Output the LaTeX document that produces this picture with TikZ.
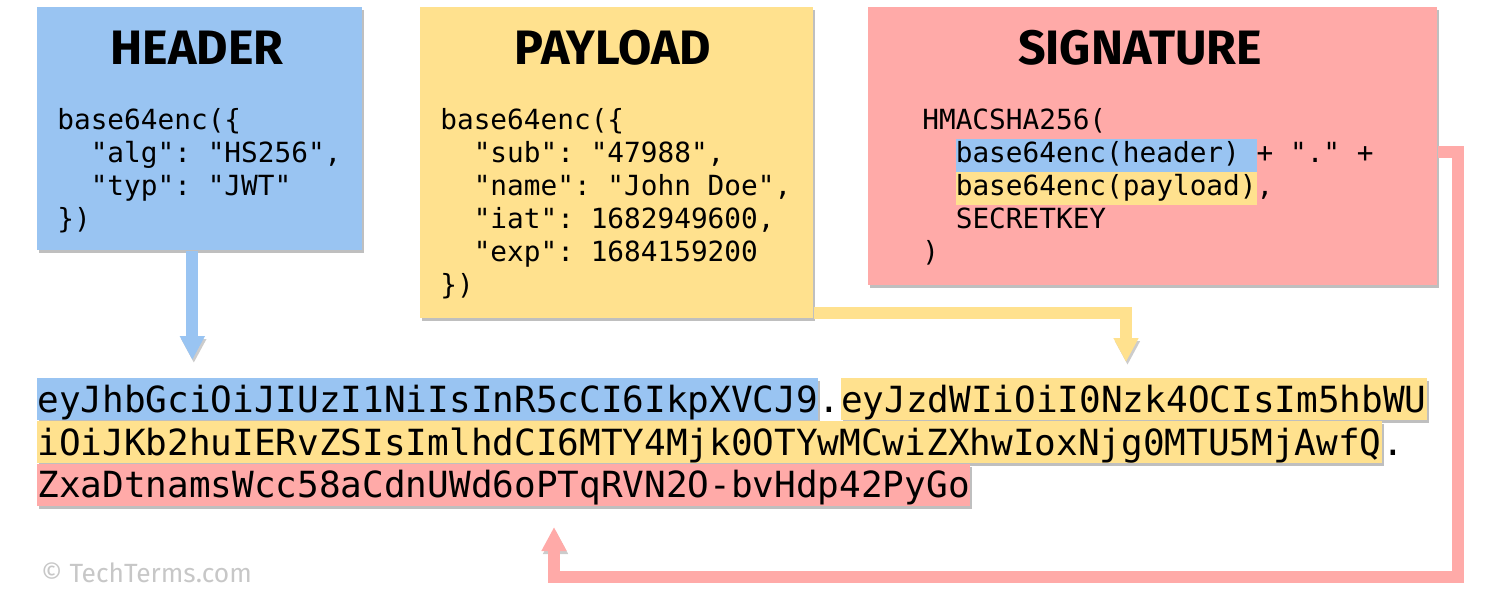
\documentclass[tikz,border=0pt]{standalone}
\usepackage{fontspec}
\setmainfont{Fira Sans}
\setmonofont{DejaVu Sans Mono}
\usetikzlibrary{arrows.meta,shadows}

\definecolor{hdrblue}{HTML}{99C4F2}
\definecolor{payyellow}{HTML}{FFE18E}
\definecolor{sigpink}{HTML}{FFAAA8}
\newcommand{\indt}{\phantom{00}}
\newcommand{\hl}[2]{{\setlength{\fboxsep}{0pt}\colorbox{#1}{\strut #2}}}

\begin{document}
\begin{tikzpicture}[x=0.02cm,y=-0.02cm,
  part/.style={anchor=north west,inner sep=0pt,drop shadow={shadow xshift=.04cm,shadow yshift=-.06cm,fill=black,opacity=.25}},
  title/.style={font=\fontsize{27.5}{32}\selectfont\bfseries},
  code/.style={anchor=north west,inner sep=0pt,align=left,font=\ttfamily\fontsize{15.8}{18.8}\selectfont},
  tok/.style={anchor=north west,inner sep=0pt,text height=.68cm,text depth=.16cm,font=\ttfamily\fontsize{20.5}{24}\selectfont},
  link/.style={line width=.24cm,line join=miter,-{Triangle[width=4.7mm,length=4.8mm]},
    preaction={draw=black!20,transform canvas={shift={(.03cm,-.06cm)}}}}]
  \useasboundingbox (0,0) rectangle (1500,600);

  % the three parts
  \node[part,fill=hdrblue,minimum width=6.5cm,minimum height=4.86cm] (header) at (37,7) {};
  \node[part,fill=payyellow,minimum width=7.86cm,minimum height=6.22cm] (payload) at (420,7) {};
  \node[part,fill=sigpink,minimum width=11.38cm,minimum height=5.56cm] (signature) at (868,7) {};

  \node[title] (hdrtitle) at (197,48) {HEADER};
  \node[title] (paytitle) at (613,48) {PAYLOAD};
  \node[title] (sigtitle) at (1140,48) {SIGNATURE};

  \node[code] (hdrcode) at (57,108) {base64enc(\{\\
    \indt"alg": "HS256",\\
    \indt"typ": "JWT"\\
    \})};
  \node[code] (paycode) at (440,108) {base64enc(\{\\
    \indt"sub": "47988",\\
    \indt"name": "John Doe",\\
    \indt"iat": 1682949600,\\
    \indt"exp": 1684159200\\
    \})};
  \node[code] (sigcode) at (922,108) {HMACSHA256(\\
    \indt\hl{hdrblue}{base64enc(header) }+ "." +\\
    \indt\hl{payyellow}{base64enc(payload)},\\
    \indt SECRETKEY\\
    )};

  % connectors
  \coordinate (hdrfoot) at ([xshift=-.15cm]header.south);
  \draw[link,hdrblue,shorten >=.36cm] (hdrfoot) -- (hdrfoot |- 0,378);
  \draw[link,payyellow,shorten >=.32cm] ([yshift=.12cm]payload.south east) -| (1126,378);
  \draw[link,sigpink,shorten >=.42cm] ([yshift=-.12cm]signature.east) -| (1458,577) -| (554,506);

  % the token
  \node[tok,part,fill=hdrblue] (tok1) at (37,378) {eyJhbGciOiJIUzI1NiIsInR5cCI6IkpXVCJ9};
  \node[tok] (dot1) at (tok1.north east) {.};
  \node[tok,part,fill=payyellow] (tok2) at (dot1.north east) {eyJzdWIiOiI0Nzk4OCIsIm5hbWU};
  \node[tok,part,fill=payyellow] (tok3) at (tok1.south west) {iOiJKb2huIERvZSIsImlhdCI6MTY4Mjk0OTYwMCwiZXhwIoxNjg0MTU5MjAwfQ};
  \node[tok] (dot2) at (tok3.north east) {.};
  \node[tok,part,fill=sigpink] (tok4) at (tok3.south west) {ZxaDtnamsWcc58aCdnUWd6oPTqRVN2O-bvHdp42PyGo};

  \node[anchor=west,text=black!22,font=\fontsize{15}{18}\selectfont] (credit) at (35,573) {\textcopyright{} TechTerms.com};
\end{tikzpicture}
\end{document}
